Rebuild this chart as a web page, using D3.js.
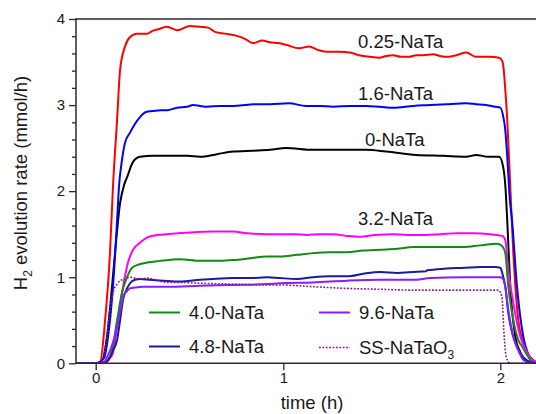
<!DOCTYPE html>
<html>
<head>
<meta charset="utf-8">
<script src="https://cdn.jsdelivr.net/npm/d3@7/dist/d3.min.js"></script>
<style>
  html, body { margin: 0; padding: 0; background: #fff; }
  svg { display: block; font-family: "Liberation Sans", Arial, sans-serif; }
</style>
</head>
<body>
<script>
// H2 evolution rate (mmol/h) versus irradiation time (h), [time, rate] pairs
const rate0 = [[-0.11,0],[0.0,0],[0.034,0.03],[0.060,0.31],[0.087,0.89],[0.103,1.28],[0.130,1.86],[0.151,2.07],[0.167,2.16],[0.199,2.34],[0.236,2.40],[0.305,2.41],[0.380,2.41],[0.487,2.41],[0.556,2.40],[0.647,2.43],[0.732,2.46],[0.839,2.47],[0.929,2.48],[1.012,2.50],[1.137,2.48],[1.229,2.48],[1.382,2.48],[1.474,2.46],[1.612,2.42],[1.737,2.41],[1.843,2.40],[1.889,2.42],[1.944,2.40],[1.995,2.40],[2.014,2.27],[2.023,2.07],[2.032,1.66],[2.046,0.89],[2.069,0.31],[2.092,0.13],[2.115,0.04],[2.16,0],[2.25,0]];
const rate025 = [[-0.11,0],[0.0,0],[0.023,0.01],[0.050,0.50],[0.076,1.28],[0.092,2.05],[0.114,2.83],[0.130,3.41],[0.156,3.68],[0.183,3.79],[0.220,3.83],[0.274,3.83],[0.300,3.86],[0.332,3.88],[0.380,3.91],[0.433,3.87],[0.503,3.92],[0.556,3.91],[0.599,3.90],[0.636,3.85],[0.689,3.83],[0.743,3.81],[0.796,3.77],[0.839,3.72],[0.887,3.75],[0.929,3.73],[0.973,3.72],[1.013,3.70],[1.073,3.66],[1.119,3.68],[1.160,3.64],[1.197,3.62],[1.257,3.62],[1.308,3.61],[1.349,3.58],[1.400,3.56],[1.442,3.55],[1.474,3.57],[1.506,3.58],[1.543,3.56],[1.580,3.56],[1.612,3.58],[1.645,3.58],[1.691,3.59],[1.723,3.57],[1.751,3.56],[1.797,3.58],[1.843,3.61],[1.889,3.56],[1.949,3.56],[1.995,3.55],[2.009,3.51],[2.014,3.45],[2.023,3.18],[2.032,2.83],[2.046,2.05],[2.060,1.28],[2.083,0.50],[2.102,0.27],[2.125,0.12],[2.162,0.02],[2.21,0],[2.25,0]];
const rate16 = [[-0.11,0],[0.0,0],[0.044,0.06],[0.066,0.31],[0.092,0.89],[0.114,1.66],[0.124,2.05],[0.140,2.36],[0.156,2.56],[0.183,2.68],[0.209,2.78],[0.236,2.86],[0.268,2.92],[0.305,2.93],[0.343,2.94],[0.380,2.94],[0.433,2.97],[0.487,2.98],[0.519,3.00],[0.556,2.99],[0.593,2.98],[0.663,2.99],[0.732,2.99],[0.796,3.00],[0.839,3.01],[0.929,3.01],[1.026,3.02],[1.105,2.99],[1.169,2.99],[1.229,2.98],[1.308,2.99],[1.382,2.99],[1.446,2.98],[1.506,2.97],[1.599,2.99],[1.677,3.00],[1.751,3.01],[1.843,3.02],[1.889,3.01],[1.935,3.00],[1.977,2.98],[2.000,2.97],[2.014,2.86],[2.023,2.71],[2.031,2.44],[2.044,1.90],[2.054,1.66],[2.077,0.89],[2.106,0.31],[2.125,0.13],[2.153,0.03],[2.185,0],[2.25,0]];
const rate32 = [[-0.11,0],[0.0,0],[0.055,0.015],[0.076,0.06],[0.092,0.12],[0.119,0.50],[0.146,0.89],[0.172,1.17],[0.199,1.32],[0.236,1.40],[0.273,1.46],[0.327,1.49],[0.380,1.50],[0.503,1.52],[0.625,1.53],[0.732,1.53],[0.807,1.51],[0.913,1.50],[0.982,1.50],[1.054,1.50],[1.109,1.49],[1.169,1.50],[1.229,1.50],[1.294,1.48],[1.354,1.47],[1.423,1.49],[1.506,1.50],[1.571,1.49],[1.631,1.49],[1.723,1.50],[1.802,1.51],[1.875,1.51],[1.954,1.50],[2.009,1.48],[2.023,1.43],[2.037,1.08],[2.060,0.70],[2.092,0.31],[2.115,0.17],[2.138,0.07],[2.166,0.015],[2.208,0],[2.25,0]];
const rate40 = [[-0.11,0],[0.0,0],[0.050,0.015],[0.066,0.04],[0.087,0.15],[0.114,0.50],[0.140,0.82],[0.167,1.00],[0.194,1.11],[0.220,1.14],[0.273,1.17],[0.343,1.19],[0.449,1.21],[0.556,1.19],[0.625,1.19],[0.732,1.20],[0.823,1.22],[0.913,1.24],[0.982,1.24],[1.063,1.26],[1.137,1.28],[1.216,1.29],[1.294,1.29],[1.368,1.31],[1.446,1.32],[1.525,1.33],[1.599,1.35],[1.677,1.35],[1.751,1.35],[1.829,1.35],[1.907,1.37],[1.986,1.39],[2.009,1.36],[2.023,1.28],[2.037,0.89],[2.060,0.50],[2.083,0.27],[2.102,0.19],[2.125,0.09],[2.148,0.015],[2.185,0],[2.25,0]];
const rate48 = [[-0.11,0],[0.0,0],[0.055,0.015],[0.076,0.07],[0.092,0.15],[0.114,0.27],[0.130,0.50],[0.146,0.74],[0.167,0.87],[0.183,0.93],[0.209,0.97],[0.236,0.98],[0.289,0.97],[0.359,0.96],[0.449,0.95],[0.556,0.97],[0.625,0.98],[0.732,0.99],[0.823,0.99],[0.913,1.00],[0.982,0.99],[1.063,0.98],[1.137,1.00],[1.216,1.01],[1.294,1.01],[1.368,1.04],[1.446,1.06],[1.525,1.05],[1.599,1.06],[1.659,1.07],[1.663,1.08],[1.751,1.10],[1.834,1.11],[1.907,1.12],[1.976,1.12],[2.000,1.11],[2.009,1.05],[2.023,0.89],[2.037,0.58],[2.055,0.35],[2.074,0.21],[2.097,0.10],[2.125,0.03],[2.162,0],[2.25,0]];
const rate96 = [[-0.11,0],[0.0,0],[0.039,0.0],[0.060,0.07],[0.087,0.21],[0.114,0.42],[0.130,0.60],[0.146,0.77],[0.167,0.84],[0.183,0.87],[0.209,0.88],[0.252,0.89],[0.380,0.89],[0.556,0.90],[0.732,0.91],[0.913,0.92],[0.982,0.93],[1.137,0.94],[1.294,0.96],[1.446,0.97],[1.599,0.97],[1.677,0.99],[1.829,1.00],[2.000,1.00],[2.009,0.99],[2.023,0.89],[2.037,0.62],[2.060,0.31],[2.083,0.15],[2.106,0.04],[2.14,0],[2.25,0]];
const rateSS = [[-0.11,0],[0.0,0],[0.023,0.0],[0.044,0.10],[0.060,0.31],[0.076,0.62],[0.092,0.82],[0.114,0.92],[0.130,0.96],[0.156,0.98],[0.183,1.00],[0.236,0.98],[0.273,0.99],[0.380,0.94],[0.449,0.94],[0.556,0.93],[0.732,0.92],[0.913,0.91],[0.982,0.91],[1.137,0.89],[1.294,0.87],[1.446,0.86],[1.599,0.85],[1.751,0.85],[1.907,0.85],[1.990,0.85],[2.001,0.82],[2.009,0.74],[2.016,0.39],[2.023,0.15],[2.032,0.04],[2.046,0],[2.25,0]];

const seriesNames = ["0-NaTa", "0.25-NaTa", "1.6-NaTa", "3.2-NaTa", "4.0-NaTa", "4.8-NaTa", "9.6-NaTa", "SS-NaTaO3"];
const seriesValues = [rate0, rate025, rate16, rate32, rate40, rate48, rate96, rateSS];
const seriesColors = ["#000000", "#ff0000", "#0000ff", "#ff00ff", "#138a13", "#1a1a9c", "#8a1cff", "#8a1a8a"];

const yTicks = [0, 1, 2, 3, 4];
const yMinorTicks = [0.2,0.4,0.6,0.8,1.2,1.4,1.6,1.8,2.2,2.4,2.6,2.8,3.2,3.4,3.6,3.8];
const xTicks = [0, 1, 2];

const W = 536, H = 414;
const frame = { left: 76, top: 19, bottom: 363.3, right: 560 };
const font = "\"Liberation Sans\", Arial, sans-serif";
const labelSize = "18.5px";
const axisColor = "#2a2a2a";

const svg = d3.select("body").append("svg").attr("width", W).attr("height", H);

const x = d3.scaleLinear().domain([0, 1, 2]).range([95.7, 283.3, 500.3]);
const y = d3.scaleLinear().domain([0, 4]).range([frame.bottom, frame.top]);

svg.append("defs").append("clipPath").attr("id", "plotclip")
  .append("rect").attr("x", frame.left).attr("y", frame.top)
  .attr("width", frame.right - frame.left).attr("height", frame.bottom - frame.top);

// curves
const line = d3.line().x(d => x(d[0])).y(d => y(d[1])).curve(d3.curveMonotoneX);
const curves = svg.append("g").attr("clip-path", "url(#plotclip)");
seriesValues.forEach((vals, i) => {
  curves.append("path")
    .datum(vals)
    .attr("fill", "none")
    .attr("stroke", seriesColors[i])
    .attr("stroke-width", i === 7 ? 1.6 : 2)
    .attr("stroke-dasharray", i === 7 ? "1.8,1.6" : null)
    .attr("stroke-linejoin", "round")
    .attr("d", line);
});

// frame lines
const fg = svg.append("g").attr("stroke", axisColor).attr("stroke-width", 1.5);
fg.append("line").attr("x1", frame.left).attr("x2", frame.left).attr("y1", frame.top - 0.75).attr("y2", frame.bottom + 0.75);
fg.append("line").attr("x1", frame.left).attr("x2", W).attr("y1", frame.bottom).attr("y2", frame.bottom);
fg.append("line").attr("x1", frame.left).attr("x2", W).attr("y1", frame.top).attr("y2", frame.top);

// y axis
const yAxis = svg.append("g").attr("transform", `translate(${frame.left},0)`)
  .call(d3.axisLeft(y).tickValues(yTicks).tickSize(7).tickSizeOuter(0).tickPadding(4).tickFormat(d3.format("d")));
const yMinor = svg.append("g").attr("transform", `translate(${frame.left},0)`)
  .call(d3.axisLeft(y).tickValues(yMinorTicks).tickSize(4).tickSizeOuter(0).tickFormat(""));

// x axis
const xAxis = svg.append("g").attr("transform", `translate(0,${frame.bottom})`)
  .call(d3.axisBottom(x).tickValues(xTicks).tickSize(7).tickSizeOuter(0).tickPadding(2).tickFormat(d3.format("d")));

[yAxis, yMinor, xAxis].forEach(g => {
  g.select(".domain").remove();
  g.selectAll(".tick line").attr("stroke", axisColor).attr("stroke-width", 1.3);
  g.selectAll(".tick text").attr("fill", "#1a1a1a").style("font-family", font).style("font-size", "15px");
});

// axis titles
svg.append("text")
  .attr("x", 312).attr("y", 409)
  .attr("text-anchor", "middle")
  .style("font-family", font).style("font-size", labelSize).attr("fill", "#1a1a1a")
  .text("time (h)");

const yTitle = svg.append("text")
  .attr("transform", "translate(27,183) rotate(-90)")
  .attr("text-anchor", "middle")
  .style("font-family", font).style("font-size", labelSize).attr("fill", "#1a1a1a");
yTitle.append("tspan").text("H");
yTitle.append("tspan").attr("dy", 5).style("font-size", "12px").text("2");
yTitle.append("tspan").attr("dy", -5).text(" evolution rate (mmol/h)");

// labels on curves
const curveLabels = [
  { name: "0.25-NaTa", x: 358, y: 47.5 },
  { name: "1.6-NaTa", x: 358, y: 100 },
  { name: "0-NaTa", x: 365, y: 145.5 },
  { name: "3.2-NaTa", x: 358, y: 225 }
];
svg.append("g").selectAll("text").data(curveLabels).join("text")
  .attr("x", d => d.x).attr("y", d => d.y)
  .style("font-family", font).style("font-size", labelSize).attr("fill", "#1a1a1a")
  .text(d => d.name);

// legend
const legendItems = [
  { idx: 4, x: 149, y: 312.5 },
  { idx: 5, x: 149, y: 346.5 },
  { idx: 6, x: 319, y: 312.5 },
  { idx: 7, x: 319, y: 347.5 }
];
const lg = svg.append("g");
legendItems.forEach(it => {
  const i = it.idx;
  lg.append("line")
    .attr("x1", it.x).attr("x2", it.x + 31).attr("y1", it.y).attr("y2", it.y)
    .attr("stroke", seriesColors[i])
    .attr("stroke-width", i === 7 ? 1.6 : 2)
    .attr("stroke-dasharray", i === 7 ? "1.8,1.6" : null);
  const t = lg.append("text")
    .attr("x", it.x + 40).attr("y", it.y + 6.5)
    .style("font-family", font).style("font-size", labelSize).attr("fill", "#1a1a1a");
  const nm = seriesNames[i];
  if (nm.endsWith("O3")) {
    t.append("tspan").text(nm.slice(0, -1));
    t.append("tspan").attr("dy", 5).style("font-size", "12px").text("3");
  } else {
    t.text(nm);
  }
});
</script>
</body>
</html>
